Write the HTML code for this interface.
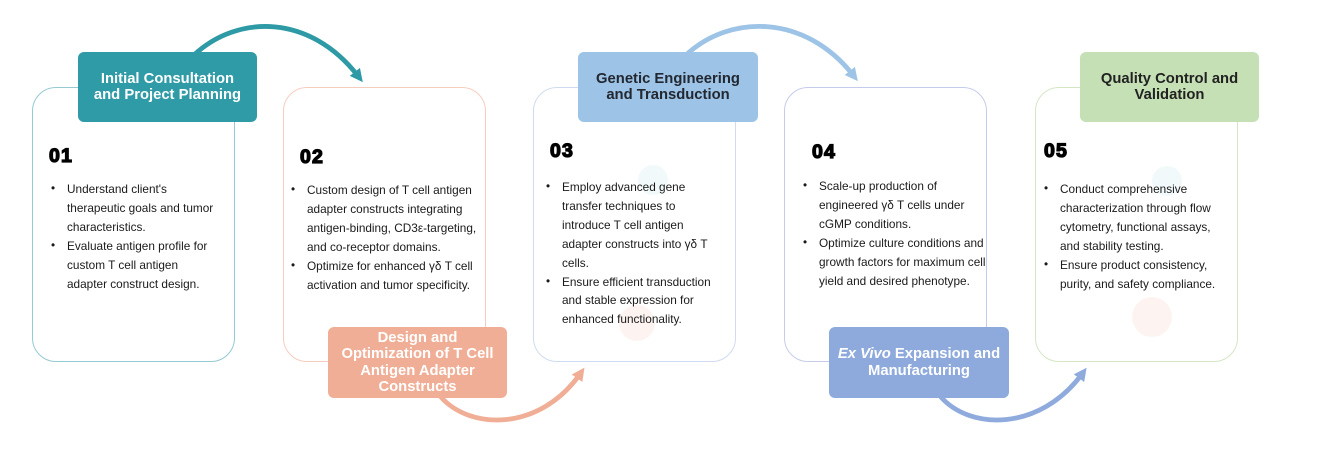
<!DOCTYPE html>
<html><head><meta charset="utf-8"><style>
html,body{margin:0;padding:0;background:#fff;}
body{width:1321px;height:449px;position:relative;overflow:hidden;font-family:"Liberation Sans",Arial,sans-serif;}
.card{position:absolute;top:87px;width:203px;height:275px;border:1.3px solid #ccc;border-radius:24px;box-sizing:border-box;background:#fff;}
.lab{position:absolute;border-radius:6px;display:flex;align-items:center;justify-content:center;text-align:center;font-weight:bold;font-size:14.8px;line-height:16.4px;white-space:nowrap;}
.num{position:absolute;font-weight:bold;font-size:19.5px;line-height:19px;letter-spacing:1.2px;-webkit-text-stroke:1.3px #000;color:#000;}
.txt{position:absolute;font-size:11.8px;line-height:18.9px;color:#1a1a1a;white-space:nowrap;}
.b{position:absolute;font-size:11.7px;line-height:18.9px;color:#1a1a1a;}
.circ{position:absolute;border-radius:50%;}
svg{position:absolute;left:0;top:0;}
</style></head><body>

<div class="card" style="left:32px;border-color:#95c9d3;"></div>
<div class="card" style="left:283px;border-color:#f5cdbf;"></div>
<div class="card" style="left:533px;border-color:#cfdcef;"></div>
<div class="card" style="left:784px;border-color:#c5cbea;"></div>
<div class="card" style="left:1035px;border-color:#d5e6c5;"></div>

<div class="circ" style="left:638px;top:165px;width:30px;height:30px;background:#f2f9fa;"></div>
<div class="circ" style="left:619px;top:305px;width:36px;height:36px;background:#fdf4f2;"></div>
<div class="circ" style="left:1152px;top:166px;width:30px;height:30px;background:#f2f9fa;"></div>
<div class="circ" style="left:1132px;top:297px;width:40px;height:40px;background:#fdf4f2;"></div>

<svg width="1321" height="449" viewBox="0 0 1321 449">
<defs>
<marker id="m1" viewBox="0 0 10 10" refX="4" refY="5" markerWidth="13" markerHeight="13" markerUnits="userSpaceOnUse" orient="auto"><path d="M0,0 L10,5 L0,10 z" fill="#2e9aa6"/></marker>
<marker id="m2" viewBox="0 0 10 10" refX="4" refY="5" markerWidth="13" markerHeight="13" markerUnits="userSpaceOnUse" orient="auto"><path d="M0,0 L10,5 L0,10 z" fill="#f0ae96"/></marker>
<marker id="m3" viewBox="0 0 10 10" refX="4" refY="5" markerWidth="13" markerHeight="13" markerUnits="userSpaceOnUse" orient="auto"><path d="M0,0 L10,5 L0,10 z" fill="#9dc3e6"/></marker>
<marker id="m4" viewBox="0 0 10 10" refX="4" refY="5" markerWidth="13" markerHeight="13" markerUnits="userSpaceOnUse" orient="auto"><path d="M0,0 L10,5 L0,10 z" fill="#8faadc"/></marker>
</defs>
<path d="M194,55 C238,14 310,14 358,76" fill="none" stroke="#2e9aa6" stroke-width="4.8" marker-end="url(#m1)"/>
<path d="M440,396 C470,431 540,431 580,374" fill="none" stroke="#f0ae96" stroke-width="4.8" marker-end="url(#m2)"/>
<path d="M686,55 C730,14 805,14 853,75" fill="none" stroke="#9dc3e6" stroke-width="4.8" marker-end="url(#m3)"/>
<path d="M940,396 C970,431 1040,431 1082,374" fill="none" stroke="#8faadc" stroke-width="4.8" marker-end="url(#m4)"/>
</svg>

<div class="lab" style="left:78px;top:52px;width:179px;height:70px;background:#2f9ba7;color:#fff;">Initial Consultation<br>and Project Planning</div>
<div class="lab" style="left:328px;top:327px;width:179px;height:71px;background:#f0ae96;color:#fff;">Design and<br>Optimization of T Cell<br>Antigen Adapter<br>Constructs</div>
<div class="lab" style="left:578px;top:52px;width:180px;height:70px;background:#9dc3e6;color:#222831;">Genetic Engineering<br>and Transduction</div>
<div class="lab" style="left:829px;top:327px;width:180px;height:71px;background:#8eaadc;color:#fff;"><span><i>Ex Vivo</i> Expansion and<br>Manufacturing</span></div>
<div class="lab" style="left:1080px;top:52px;width:179px;height:70px;background:#c5e0b4;color:#222;">Quality Control and<br>Validation</div>

<div class="num" style="left:49px;top:147px;">01</div>
<div class="num" style="left:300px;top:148px;">02</div>
<div class="num" style="left:550px;top:142px;">03</div>
<div class="num" style="left:812px;top:143px;">04</div>
<div class="num" style="left:1044px;top:142px;">05</div>

<!-- card 1 -->
<div class="b" style="left:51px;top:180px;">•</div>
<div class="b" style="left:51px;top:237px;">•</div>
<div class="txt" style="left:67px;top:180px;">Understand client's<br>therapeutic goals and tumor<br>characteristics.<br>Evaluate antigen profile for<br>custom T cell antigen<br>adapter construct design.</div>

<!-- card 2 -->
<div class="b" style="left:291px;top:181px;">•</div>
<div class="b" style="left:291px;top:257px;">•</div>
<div class="txt" style="left:307px;top:181px;">Custom design of T cell antigen<br>adapter constructs integrating<br>antigen-binding, CD3ε-targeting,<br>and co-receptor domains.<br>Optimize for enhanced γδ T cell<br>activation and tumor specificity.</div>

<!-- card 3 -->
<div class="b" style="left:546px;top:178px;">•</div>
<div class="b" style="left:546px;top:273px;">•</div>
<div class="txt" style="left:562px;top:178px;">Employ advanced gene<br>transfer techniques to<br>introduce T cell antigen<br>adapter constructs into γδ T<br>cells.<br>Ensure efficient transduction<br>and stable expression for<br>enhanced functionality.</div>

<!-- card 4 -->
<div class="b" style="left:803px;top:177px;">•</div>
<div class="b" style="left:803px;top:234px;">•</div>
<div class="txt" style="left:819px;top:177px;">Scale-up production of<br>engineered γδ T cells under<br>cGMP conditions.<br>Optimize culture conditions and<br>growth factors for maximum cell<br>yield and desired phenotype.</div>

<!-- card 5 -->
<div class="b" style="left:1044px;top:180px;">•</div>
<div class="b" style="left:1044px;top:256px;">•</div>
<div class="txt" style="left:1060px;top:180px;">Conduct comprehensive<br>characterization through flow<br>cytometry, functional assays,<br>and stability testing.<br>Ensure product consistency,<br>purity, and safety compliance.</div>

</body></html>
